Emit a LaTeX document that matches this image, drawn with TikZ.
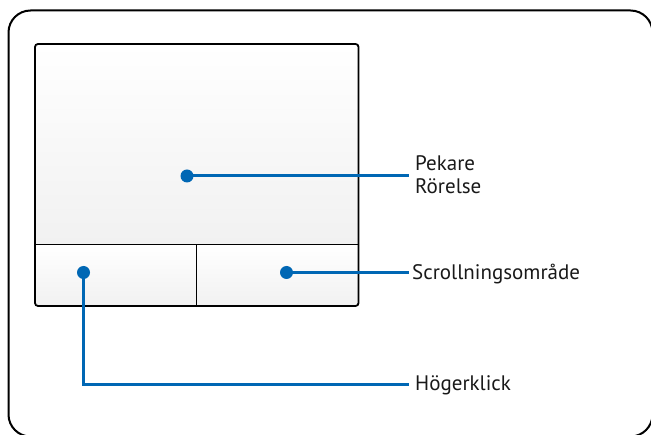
\documentclass[tikz,border=0pt]{standalone}
\usepackage{fontspec}
\setmainfont{PT Sans}
\definecolor{lineblue}{RGB}{0,103,180}
\definecolor{padgray}{RGB}{241,241,241}
\tikzset{
  x=1pt, y=-1pt,
  frame/.style={draw=black, line width=2pt},
  padline/.style={draw=black, line width=1.8pt},
  dotmark/.style={circle, fill=lineblue, inner sep=0pt, minimum size=13pt},
  lead/.style={draw=lineblue, line width=3pt},
  lbl/.style={font=\fontsize{21}{23.5}\selectfont, inner xsep=6pt, inner ysep=2pt, align=left, text=black!90},
}
\begin{document}
\begin{tikzpicture}
\useasboundingbox (0,0) rectangle (651,435);
% outer frame
\draw[frame, rounded corners=22pt] (8.5,10.5) rectangle (652.5,436.5);
% touchpad shading
\shade[top color=white, middle color=white, bottom color=padgray] (35,44) rectangle (358.5,244.5);
\shade[top color=white, bottom color=padgray] (35,244.5) rectangle (196.5,306);
\shade[top color=white, bottom color=padgray] (196.5,244.5) rectangle (358.5,306);
% touchpad outlines
\draw[padline, rounded corners=3pt] (35,44) rectangle (358.5,306);
\draw[padline] (35,244.5) -- (358.5,244.5);
\draw[padline] (196.5,244.5) -- (196.5,306);
% dots
\node[dotmark] (d1) at (187,176) {};
\node[dotmark] (d2) at (83.5,272.5) {};
\node[dotmark] (d3) at (286.5,272.5) {};
% labels
\node[lbl, anchor=base west] (l1) at (409,194) {Pekare\\Rörelse};
\node[lbl, anchor=base west] (l3) at (406,280) {Scrollningsområde};
\node[lbl, anchor=base west] (l2) at (409,390.7) {Högerklick};
\coordinate (c1) at (409,176);
\coordinate (c3) at (409,272.5);
\coordinate (c2) at (409,385);
% leads
\draw[lead] (d1.center) -- (c1);
\draw[lead] (d3.center) -- (c3);
\draw[lead] (d2.center) |- (c2);
\end{tikzpicture}
\end{document}
